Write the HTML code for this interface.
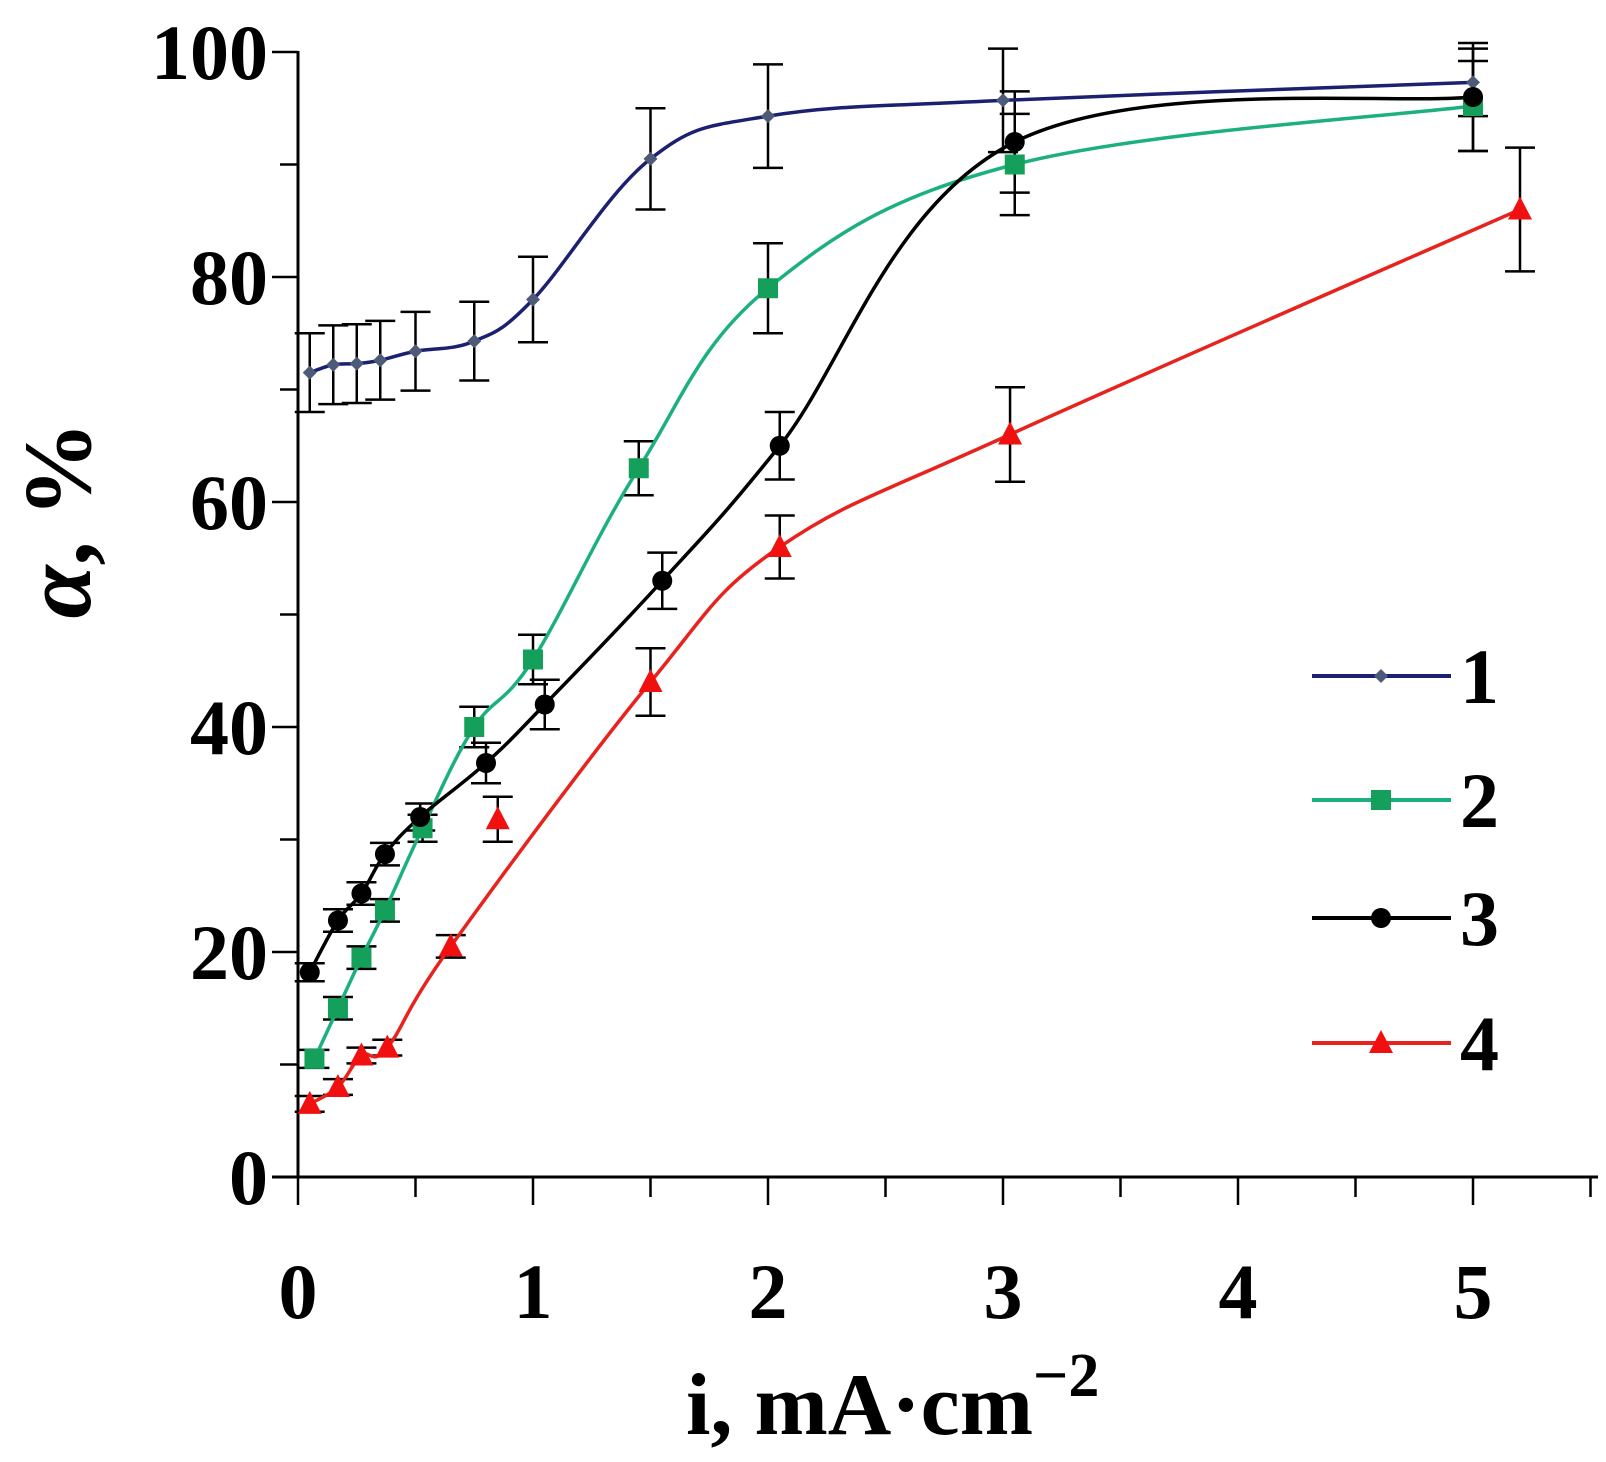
<!DOCTYPE html>
<html><head><meta charset="utf-8"><style>
html,body{margin:0;padding:0;background:#fff;}
svg{display:block;}
text{font-family:"Liberation Serif",serif;font-weight:bold;fill:#000;}
</style></head><body>
<svg id="s" width="1606" height="1462" viewBox="0 0 1606 1462" xmlns="http://www.w3.org/2000/svg">
<g id="axes" stroke="#000" stroke-width="3" fill="none">
<line x1="298" y1="51" x2="298" y2="1177"/>
<line x1="272" y1="1177" x2="1598" y2="1177"/>
</g>
<g id="ticks" stroke="#000" stroke-width="2.5"></g>
<g id="errs" stroke="#000" stroke-width="2.5" fill="none"></g>
<g id="lines" fill="none" stroke-width="3.5"></g>
<g id="marks"></g>
<g font-size="78" text-anchor="end">
<text x="268" y="79">100</text>
<text x="268" y="304">80</text>
<text x="268" y="529">60</text>
<text x="268" y="754">40</text>
<text x="268" y="979">20</text>
<text x="268" y="1204">0</text>
</g>
<g font-size="78" text-anchor="middle">
<text x="298" y="1318">0</text>
<text x="533" y="1318">1</text>
<text x="768" y="1318">2</text>
<text x="1003" y="1318">3</text>
<text x="1238" y="1318">4</text>
<text x="1473" y="1318">5</text>
</g>
<text x="686" y="1434" font-size="88">i, mA·cm<tspan font-size="62" dy="-38">−2</tspan></text>
<text transform="translate(90,520) rotate(-90)" font-size="96" text-anchor="middle"><tspan font-style="italic">α</tspan>, %</text>
<g id="legend"></g>
<g font-size="78">
<text x="1460" y="703">1</text>
<text x="1460" y="827">2</text>
<text x="1460" y="945">3</text>
<text x="1460" y="1070">4</text>
</g>
</svg>
<script>
const NS="http://www.w3.org/2000/svg";
const X=x=>298+235*x, Y=v=>1177-11.25*v;
function el(p,t,a){const e=document.createElementNS(NS,t);for(const k in a)e.setAttribute(k,a[k]);document.getElementById(p).appendChild(e);return e;}
for(let i=1;i<=11;i++){const x=298+117.5*i;el('ticks','line',{x1:x,y1:1177,x2:x,y2:i%2==0?1205:1197});}
el('ticks','line',{x1:298,y1:1177,x2:298,y2:1205});
for(let i=1;i<=10;i++){const y=Y(i*10);el('ticks','line',{x1:i%2==0?272:280,y1:y,x2:298,y2:y});}
const S=[
{c:"#1c2070",m:"#4d5a78",t:"d",x:[0.05,0.15,0.25,0.35,0.5,0.75,1.0,1.5,2.0,3.0,5.0],y:[71.5,72.2,72.3,72.6,73.4,74.3,78,90.5,94.3,95.7,97.3],e:[3.5,3.5,3.5,3.5,3.5,3.5,3.8,4.5,4.6,4.6,3]},
{c:"#1cb07e",m:"#14a05a",t:"s",x:[0.07,0.17,0.27,0.37,0.53,0.75,1.0,1.45,2.0,3.05,5.0],y:[10.5,15,19.5,23.7,31,40,46,63,79,90,95.2],e:[0.8,1,1,1,1.2,1.8,2.2,2.4,4,4.5,4]},
{c:"#000",m:"#000",t:"c",x:[0.05,0.17,0.27,0.37,0.52,0.8,1.05,1.55,2.05,3.05,5.0],y:[18.2,22.8,25.2,28.7,32,36.8,42,53,65,92,96],e:[0.8,1,1,1,1.2,1.8,2.2,2.5,3,4.5,4.8]},
{c:"#e8221c",m:"#f01010",t:"t",x:[0.05,0.17,0.27,0.38,0.65,0.85,1.5,2.05,3.03,5.2],y:[6.5,8,10.8,11.5,20.5,31.8,44,56,66,86],e:[0.7,0.7,0.7,0.7,1,2,3,2.8,4.2,5.5],skip:5}
];
function path(pts){let d="M"+pts[0][0]+","+pts[0][1];const k=0.18;
for(let i=0;i<pts.length-1;i++){const p0=pts[Math.max(0,i-1)],p1=pts[i],p2=pts[i+1],p3=pts[Math.min(pts.length-1,i+2)];
d+=" C"+(p1[0]+(p2[0]-p0[0])*k)+","+(p1[1]+(p2[1]-p0[1])*k)+" "+(p2[0]-(p3[0]-p1[0])*k)+","+(p2[1]-(p3[1]-p1[1])*k)+" "+p2[0]+","+p2[1];}return d;}
function mark(t,x,y,col,sz){
if(t=="d")el('marks','path',{d:`M${x},${y-7*sz} L${x+7*sz},${y} L${x},${y+7*sz} L${x-7*sz},${y}Z`,fill:col});
if(t=="s")el('marks','rect',{x:x-10*sz,y:y-10*sz,width:20*sz,height:20*sz,fill:col});
if(t=="c")el('marks','circle',{cx:x,cy:y,r:10*sz,fill:col});
if(t=="t")el('marks','path',{d:`M${x},${y-13*sz} L${x+12*sz},${y+10*sz} L${x-12*sz},${y+10*sz}Z`,fill:col});}
S.forEach(s=>{
const pts=[];s.x.forEach((x,i)=>{if(i!==s.skip)pts.push([X(x),Y(s.y[i])]);});
el('lines','path',{d:path(pts),stroke:s.c});
s.x.forEach((x,i)=>{const px=X(x),y1=Y(s.y[i]+s.e[i]),y2=Y(s.y[i]-s.e[i]);
el('errs','line',{x1:px,y1:y1,x2:px,y2:y2});
el('errs','line',{x1:px-15,y1:y1,x2:px+15,y2:y1});
el('errs','line',{x1:px-15,y1:y2,x2:px+15,y2:y2});
mark(s.t,px,Y(s.y[i]),s.m,1);});
});
const ly=[676,800,918,1043];
S.forEach((s,i)=>{el('legend','line',{x1:1312,y1:ly[i],x2:1451,y2:ly[i],stroke:s.c,"stroke-width":4});
const tmp='legend';
if(s.t=="d")el(tmp,'path',{d:`M1381,${ly[i]-7} L1388,${ly[i]} L1381,${ly[i]+7} L1374,${ly[i]}Z`,fill:s.m});
if(s.t=="s")el(tmp,'rect',{x:1371,y:ly[i]-10,width:20,height:20,fill:s.m});
if(s.t=="c")el(tmp,'circle',{cx:1381,cy:ly[i],r:10,fill:s.m});
if(s.t=="t")el(tmp,'path',{d:`M1381,${ly[i]-13} L1393,${ly[i]+10} L1369,${ly[i]+10}Z`,fill:s.m});
});
</script>
</body></html>
